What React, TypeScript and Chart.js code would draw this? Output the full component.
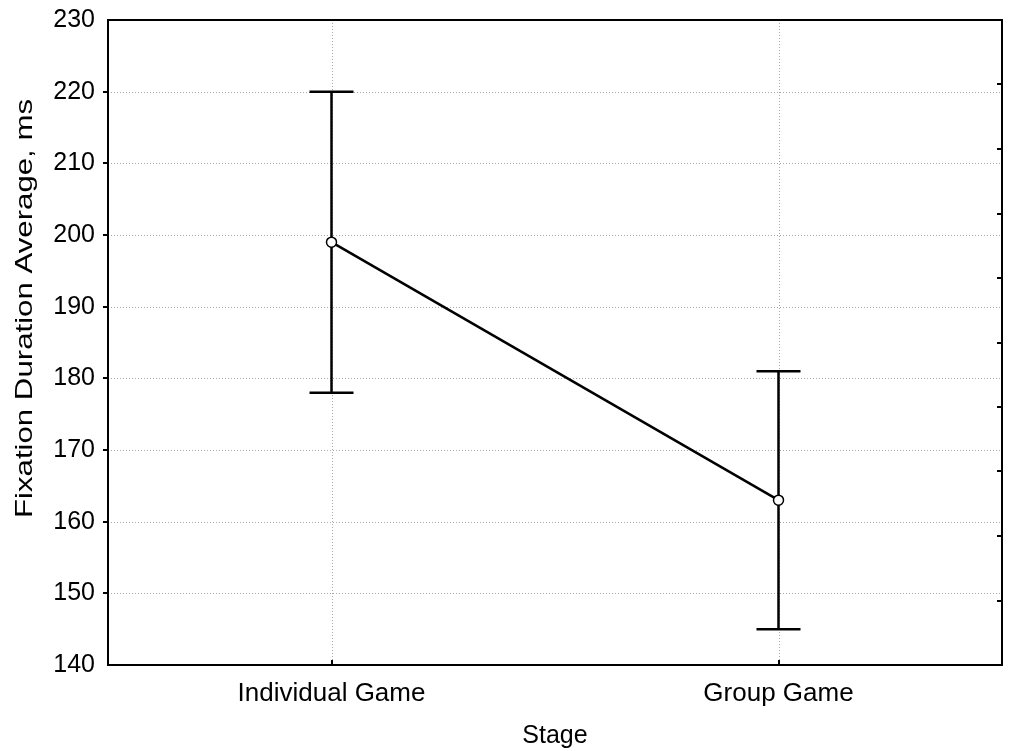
import { useEffect, useRef } from 'react';
import { Chart, registerables } from 'chart.js';

Chart.register(...registerables);

const categories = ['Individual Game', 'Group Game'];
const means = [199, 163];
const upper = [220, 181];
const lower = [178, 145];
const yMin = 140;
const yMax = 230;
const yStep = 10;
const rightDivisions = 10;
const xTitle = 'Stage';
const yTitle = 'Fixation Duration Average, ms';

const FONT = '"Liberation Sans", Arial, sans-serif';

const decorPlugin = {
  id: 'decor',
  beforeDatasetsDraw(chart: any) {
    const { ctx, chartArea } = chart;
    const xs = chart.scales.x;
    const ys = chart.scales.y;
    const { left, right, top, bottom } = chartArea;
    ctx.save();
    ctx.strokeStyle = '#a8a8a8';
    ctx.lineWidth = 1;
    ctx.setLineDash([1, 2]);
    ys.ticks.forEach((t: any) => {
      if (t.value <= yMin || t.value >= yMax) return;
      const y = Math.round(ys.getPixelForValue(t.value)) + 0.5;
      ctx.beginPath();
      ctx.moveTo(left, y);
      ctx.lineTo(right, y);
      ctx.stroke();
    });
    categories.forEach((_c, i) => {
      const x = Math.round(xs.getPixelForValue(i)) + 0.5;
      ctx.beginPath();
      ctx.moveTo(x, top);
      ctx.lineTo(x, bottom);
      ctx.stroke();
    });
    ctx.setLineDash([]);
    ctx.strokeStyle = '#000';
    ctx.lineWidth = 2.5;
    const cap = 22;
    categories.forEach((_c, i) => {
      const x = xs.getPixelForValue(i);
      const yu = ys.getPixelForValue(upper[i]);
      const yl = ys.getPixelForValue(lower[i]);
      ctx.beginPath();
      ctx.moveTo(x, yu);
      ctx.lineTo(x, yl);
      ctx.moveTo(x - cap, yu);
      ctx.lineTo(x + cap, yu);
      ctx.moveTo(x - cap, yl);
      ctx.lineTo(x + cap, yl);
      ctx.stroke();
    });
    ctx.restore();
  },
  afterDraw(chart: any) {
    const { ctx, chartArea } = chart;
    const xs = chart.scales.x;
    const ys = chart.scales.y;
    const y2 = chart.scales.y2;
    const { left, right, top, bottom } = chartArea;
    ctx.save();
    ctx.strokeStyle = '#000';
    ctx.lineWidth = 2;
    ctx.strokeRect(left, top, right - left, bottom - top);
    ctx.beginPath();
    ys.ticks.forEach((t: any) => {
      if (t.value <= yMin || t.value >= yMax) return;
      const y = Math.round(ys.getPixelForValue(t.value));
      ctx.moveTo(left - 5, y);
      ctx.lineTo(left, y);
    });
    categories.forEach((_c, i) => {
      const x = Math.round(xs.getPixelForValue(i));
      ctx.moveTo(x, bottom);
      ctx.lineTo(x, bottom - 5);
    });
    for (let i = 1; i < rightDivisions; i++) {
      const y = Math.round(y2.getPixelForValue(i));
      ctx.moveTo(right, y);
      ctx.lineTo(right - 5, y);
    }
    ctx.stroke();
    ctx.fillStyle = '#000';
    ctx.font = `25px ${FONT}`;
    ctx.textAlign = 'center';
    ctx.textBaseline = 'alphabetic';
    ctx.fillText(xTitle, (left + right) / 2, 743);
    ctx.save();
    ctx.translate(32, 308.5);
    ctx.rotate(-Math.PI / 2);
    ctx.scale(1.3, 1.02);
    ctx.font = `24px ${FONT}`;
    ctx.fillText(yTitle, 0, 0);
    ctx.restore();
    ctx.restore();
  },
};

export default function App() {
  const ref = useRef<HTMLCanvasElement>(null);
  useEffect(() => {
    document.body.style.margin = '0';
    const canvas = ref.current!;
    const chart = new Chart(canvas, {
      type: 'line',
      data: {
        labels: categories,
        datasets: [
          {
            data: means,
            borderColor: '#000',
            borderWidth: 2.5,
            pointRadius: 5,
            pointBackgroundColor: '#fff',
            pointBorderColor: '#000',
            pointBorderWidth: 1.5,
            tension: 0,
          },
        ],
      },
      options: {
        responsive: false,
        animation: false,
        layout: { padding: { top: 20, right: 9, left: 0, bottom: 0 } },
        plugins: { legend: { display: false }, tooltip: { enabled: false }, title: { display: false } },
        scales: {
          x: {
            type: 'category',
            offset: true,
            grid: { display: false, drawTicks: false },
            border: { display: false },
            ticks: { color: '#000', font: { family: FONT, size: 26 }, padding: 13, maxRotation: 0 },
            afterFit: (s: any) => {
              s.height = 86;
              s.paddingLeft = 0;
              s.paddingRight = 0;
            },
          },
          y: {
            type: 'linear',
            position: 'left',
            min: yMin,
            max: yMax,
            ticks: { stepSize: yStep, color: '#000', font: { family: FONT, size: 25 }, padding: 13 },
            grid: { display: false, drawTicks: false },
            border: { display: false },
            afterFit: (s: any) => {
              s.width = 108;
              s.paddingTop = 0;
              s.paddingBottom = 0;
            },
          },
          y2: {
            type: 'linear',
            position: 'right',
            min: 0,
            max: rightDivisions,
            ticks: { display: false, stepSize: 1 },
            grid: { display: false, drawTicks: false },
            border: { display: false },
            afterFit: (s: any) => {
              s.width = 0;
              s.paddingTop = 0;
              s.paddingBottom = 0;
            },
          },
        },
      },
      plugins: [decorPlugin],
    });
    return () => chart.destroy();
  }, []);
  return <canvas ref={ref} width={1011} height={751} style={{ display: 'block', width: 1011, height: 751 }} />;
}
